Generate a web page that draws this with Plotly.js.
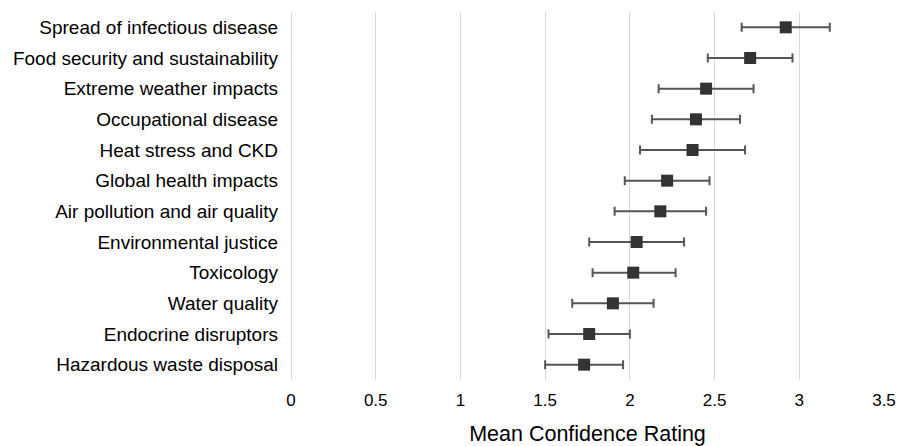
<!DOCTYPE html>
<html>
<head>
<meta charset="utf-8">
<script src="https://cdn.plot.ly/plotly-3.0.1.min.js"></script>
<style>html,body{margin:0;padding:0;background:#fff;}#chart{width:901px;height:446px;}</style>
</head>
<body>
<div id="chart"></div>
<script>
const categories = [
  "Spread of infectious disease",
  "Food security and sustainability",
  "Extreme weather impacts",
  "Occupational disease",
  "Heat stress and CKD",
  "Global health impacts",
  "Air pollution and air quality",
  "Environmental justice",
  "Toxicology",
  "Water quality",
  "Endocrine disruptors",
  "Hazardous waste disposal"
];
const means = [2.92, 2.71, 2.45, 2.39, 2.37, 2.22, 2.18, 2.04, 2.02, 1.90, 1.76, 1.73];
const lower = [2.66, 2.46, 2.17, 2.13, 2.06, 1.97, 1.91, 1.76, 1.78, 1.66, 1.52, 1.50];
const upper = [3.18, 2.96, 2.73, 2.65, 2.68, 2.47, 2.45, 2.32, 2.27, 2.14, 2.00, 1.96];
const xTicks = [0, 0.5, 1, 1.5, 2, 2.5, 3, 3.5];
const xTickLabels = ["0", "0.5", "1", "1.5", "2", "2.5", "3", "3.5"];

const errPlus = upper.map((u, i) => u - means[i]);
const errMinus = lower.map((l, i) => means[i] - l);

const font = '"Liberation Sans", Arial, Helvetica, sans-serif';

const trace = {
  type: 'scatter',
  mode: 'markers',
  x: means,
  y: categories,
  marker: {symbol: 'square', size: 12, color: '#333333'},
  error_x: {
    type: 'data', symmetric: false,
    array: errPlus, arrayminus: errMinus,
    color: '#555555', thickness: 2, width: 4.5
  },
  hoverinfo: 'x+y'
};

const layout = {
  width: 901, height: 446,
  margin: {l: 291, r: 17, t: 12, b: 66},
  paper_bgcolor: '#ffffff', plot_bgcolor: '#ffffff',
  showlegend: false,
  font: {family: font, color: '#000000'},
  xaxis: {
    range: [0, 3.5],
    tickvals: xTicks, ticktext: xTickLabels,
    showgrid: true, gridcolor: '#d9d9d9', gridwidth: 1,
    zeroline: true, zerolinecolor: '#d9d9d9', zerolinewidth: 1,
    showline: false, ticks: '',
    tickfont: {size: 17, family: font, color: '#000'},
    ticklabelstandoff: 8,
    title: {text: 'Mean Confidence Rating', font: {size: 21.5, family: font, color: '#000'}, standoff: 23},
    automargin: false, fixedrange: true
  },
  yaxis: {
    type: 'category',
    categoryorder: 'array', categoryarray: categories,
    range: [11.5, -0.5],
    showgrid: false, zeroline: false, showline: false, ticks: '',
    tickfont: {size: 19, family: font, color: '#000'},
    ticklabelstandoff: 12,
    automargin: false, fixedrange: true
  }
};

Plotly.newPlot('chart', [trace], layout, {displayModeBar: false, staticPlot: true});
</script>
</body>
</html>
